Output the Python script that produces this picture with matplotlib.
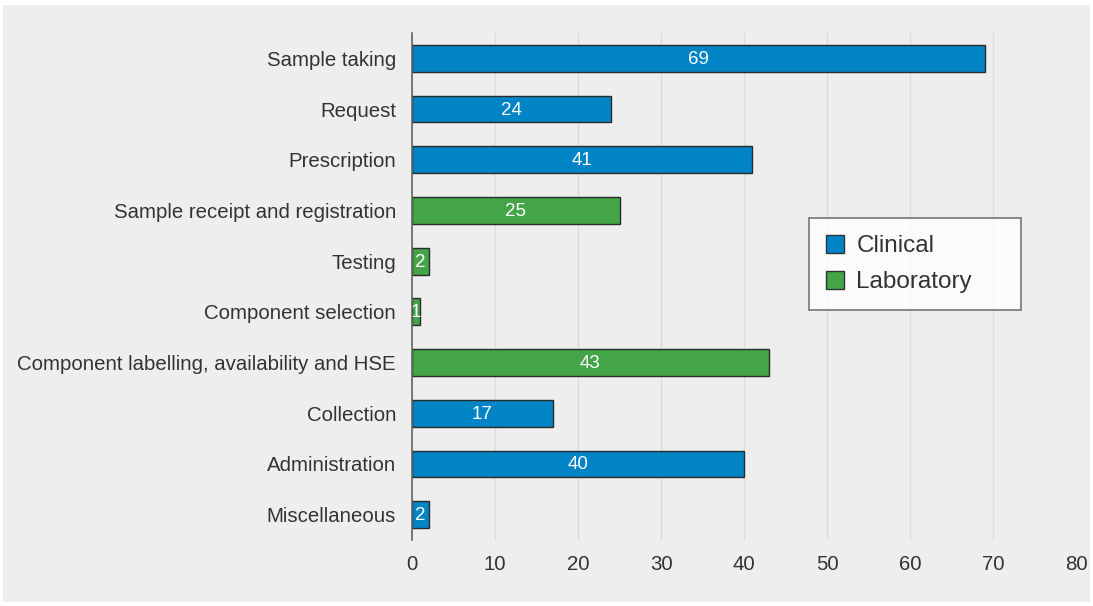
import matplotlib.pyplot as plt
from matplotlib.patches import Rectangle, Patch

plt.rcParams['font.family'] = ['Liberation Sans', 'DejaVu Sans']

stages = ["Sample taking", "Request", "Prescription", "Sample receipt and registration",
          "Testing", "Component selection", "Component labelling, availability and HSE",
          "Collection", "Administration", "Miscellaneous"]
counts = [69, 24, 41, 25, 2, 1, 43, 17, 40, 2]
groups = ["Clinical", "Clinical", "Clinical", "Laboratory", "Laboratory", "Laboratory",
          "Laboratory", "Clinical", "Clinical", "Clinical"]
xticks = [0, 10, 20, 30, 40, 50, 60, 70, 80]

colors = {"Clinical": "#0084c6", "Laboratory": "#44a548"}

fig = plt.figure(figsize=(10.93, 6.06), dpi=100)
fig.patch.set_facecolor("white")
fig.patches.append(Rectangle((3 / 1093, 4 / 606), 1087 / 1093, 597 / 606,
                             transform=fig.transFigure, facecolor="#eeeeee",
                             edgecolor="none", zorder=-1))

ax = fig.add_axes([412 / 1093, 66 / 606, 664 / 1093, 507 / 606])
ax.set_facecolor("none")

ypos = list(range(len(stages)))
ax.barh(ypos, counts, height=0.53, color=[colors[g] for g in groups],
        edgecolor="#2a2a2a", linewidth=1, zorder=3)
for y, v in zip(ypos, counts):
    ax.text(v / 2, y + 0.02, str(v), color="white", ha="center", va="center",
            fontsize=13.5, zorder=4)

ax.set_ylim(9.5, -0.5)
ax.set_xlim(0, 80)
ax.set_xticks(xticks)
ax.set_yticks(ypos)
ax.set_yticklabels(stages)
ax.tick_params(axis="both", length=0, labelsize=14.7, labelcolor="#333333")
ax.tick_params(axis="x", pad=11)
ax.tick_params(axis="y", pad=11.5)
ax.grid(axis="x", color="#dcdcdc", linewidth=1, zorder=0)
for s in ["top", "right", "bottom"]:
    ax.spines[s].set_visible(False)
ax.spines["left"].set_color("#666666")
ax.spines["left"].set_linewidth(1.2)
ax.spines["left"].set_zorder(5)

# legend box stretched to a fixed width
handles = [Patch(facecolor=colors[k], edgecolor="#333333", label=k) for k in colors]
leg = fig.legend(handles=handles, loc="upper left", mode="expand",
                 bbox_to_anchor=(809 / 1093, 1 - 310 / 606, 212 / 1093, 92 / 606),
                 borderaxespad=0, frameon=True, fancybox=False, fontsize=17.5,
                 handlelength=0.75, handleheight=0.75, handletextpad=0.5,
                 borderpad=0.7, labelspacing=0.55, labelcolor="#333333")
leg.get_frame().set_edgecolor("#555555")
leg.get_frame().set_facecolor("white")
leg.get_frame().set_linewidth(1.2)

fig.savefig("out.png", dpi=100, facecolor="white")
